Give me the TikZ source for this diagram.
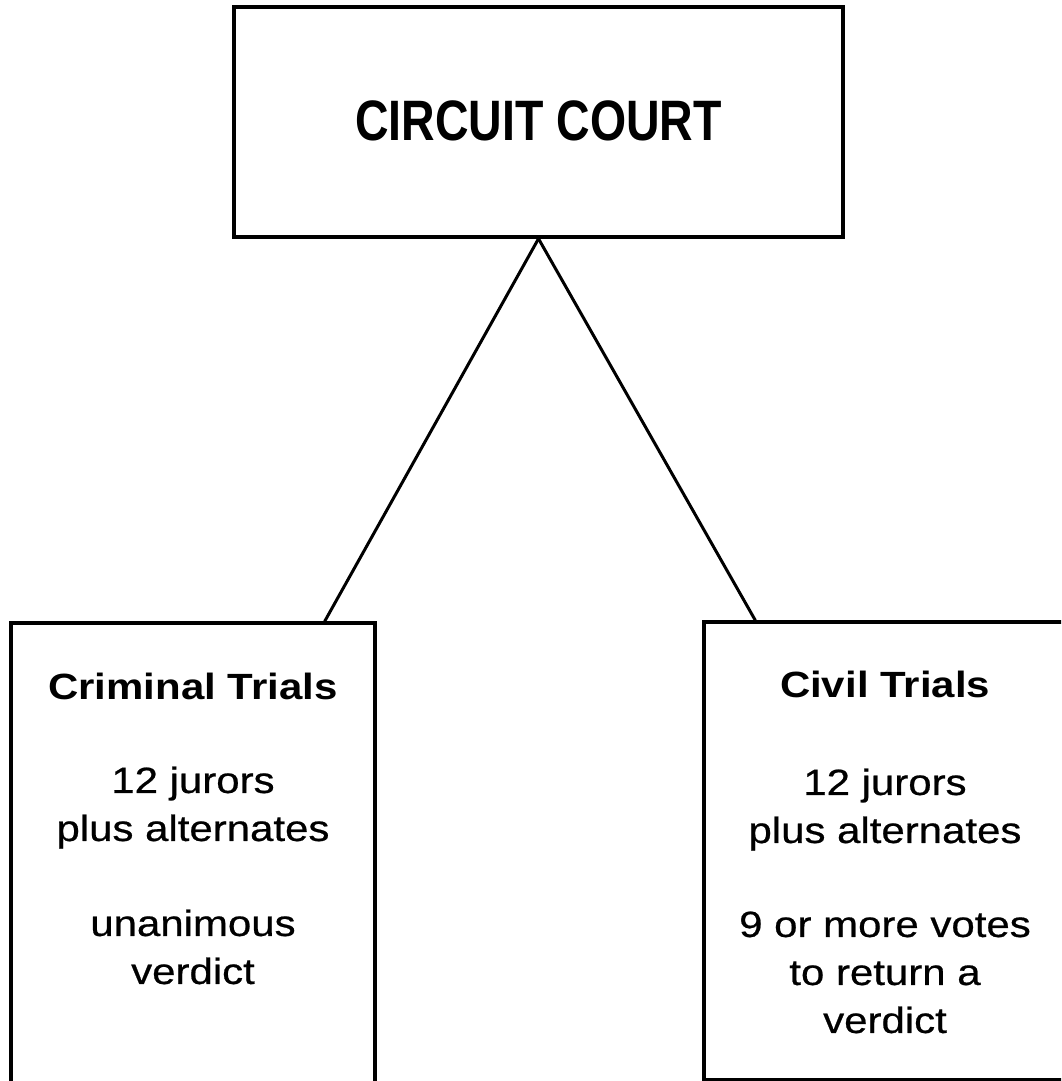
\documentclass[tikz,border=0pt]{standalone}
\usepackage{fontspec}
\setmainfont{Liberation Sans}
\newfontfamily\boxfont[FakeStretch=1.15, UprightFeatures={FakeBold=0.6}]{Liberation Sans}
\newfontfamily\topfont[FakeStretch=0.815]{Liberation Sans}
\usetikzlibrary{calc}
\begin{document}
\begin{tikzpicture}[x=1pt,y=-1pt,
  frame/.style={draw=black, line width=3.4pt, rectangle, inner sep=0pt},
  conn/.style={draw=black, line width=3pt},
  boxtext/.style={anchor=north, align=center, inner sep=0pt,
    font=\boxfont\fontsize{36.5}{48}\selectfont},
  toptext/.style={inner sep=0pt, font=\topfont\bfseries\fontsize{57}{60}\selectfont}]
\useasboundingbox (0,0) rectangle (1061,1081);
\clip (0,0) rectangle (1061,1081);
% boxes
\node[frame, minimum width=609pt, minimum height=230pt] (court) at (538.5,122) {};
\node[frame, minimum width=364pt, minimum height=472pt] (crim) at (193,859) {};
\node[frame, minimum width=362pt, minimum height=457.5pt] (civ) at (885,850.75) {};
% texts
\node[toptext] (courttxt) at (538.5,120.5) {CIRCUIT COURT};
\node[boxtext] (crimtxt) at ($(crim.north)+(0,52)$)
  {\bfseries Criminal Trials\\[45pt] 12 jurors\\ plus alternates\\[47pt] unanimous\\ verdict};
\node[boxtext] (civtxt) at ($(civ.north)+(0,51)$)
  {\bfseries Civil Trials\\[49pt] 12 jurors\\ plus alternates\\[46pt] 9 or more votes\\ to return a\\ verdict};
% connectors
\coordinate (crimtop) at ($(crim.north east)+(-52,0)$);
\coordinate (civtop) at ($(civ.north west)+(53,0)$);
\draw[conn] (court.south) -- (crimtop);
\draw[conn] (court.south) -- (civtop);
\end{tikzpicture}
\end{document}
